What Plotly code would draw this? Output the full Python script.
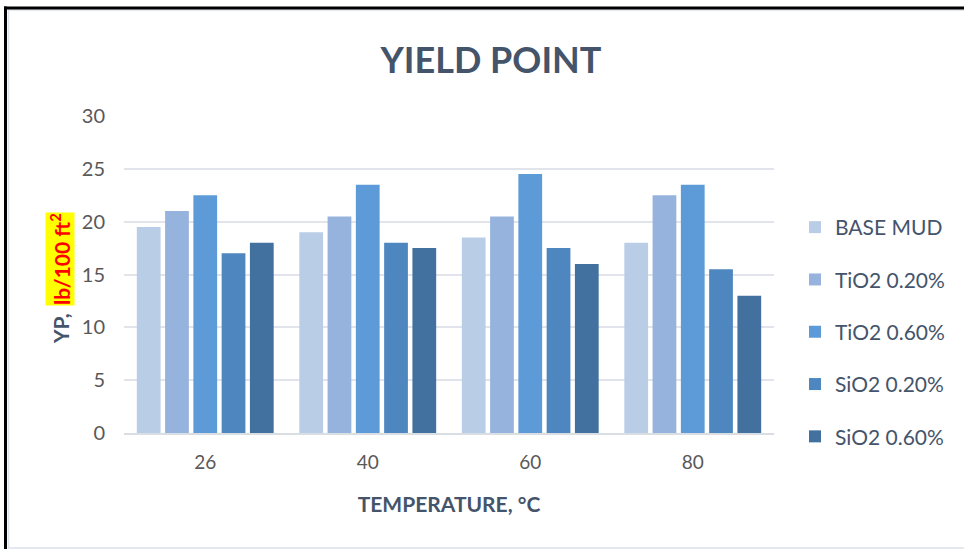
import plotly.graph_objects as go

# Yield point of the drilling fluid at each test temperature
temperatures = ["26", "40", "60", "80"]
series_names = ["BASE MUD", "TiO2 0.20%", "TiO2 0.60%", "SiO2 0.20%", "SiO2 0.60%"]
base_mud = [19.5, 19.0, 18.5, 18.0]
tio2_020 = [21.0, 20.5, 20.5, 22.5]
tio2_060 = [22.5, 23.5, 24.5, 23.5]
sio2_020 = [17.0, 18.0, 17.5, 15.5]
sio2_060 = [18.0, 17.5, 16.0, 13.0]
y_ticks = [0, 5, 10, 15, 20, 25, 30]

series_values = [base_mud, tio2_020, tio2_060, sio2_020, sio2_060]
colors = ["#bacde7", "#95b3dc", "#5c9bd7", "#4e86bf", "#42709f"]

W, H = 964, 549
L, R, T, B = 124, 190, 116, 116

fig = go.Figure()
for name, vals, col in zip(series_names, series_values, colors):
    fig.add_trace(go.Bar(
        x=temperatures, y=vals, name=name, legendgroup=name,
        marker=dict(color=col, line=dict(width=0)),
    ))


def px_x(px):
    return (px - L) / (W - L - R)


def px_y(py):
    return (H - B - py) / (H - T - B)


text_col = "#44546a"
font = "Lato, 'Open Sans', sans-serif"

shapes = [
    # inner light frame
    dict(type="rect", xref="paper", yref="paper",
         x0=px_x(8.5), x1=px_x(970), y0=px_y(548), y1=px_y(10),
         line=dict(color="#dde2ea", width=1.5), fillcolor="rgba(0,0,0,0)", layer="below"),
    # outer dark frame (top and left)
    dict(type="line", xref="paper", yref="paper",
         x0=px_x(4), x1=px_x(970), y0=px_y(8), y1=px_y(8),
         line=dict(color="black", width=3)),
    dict(type="line", xref="paper", yref="paper",
         x0=px_x(5.5), x1=px_x(5.5), y0=px_y(6.5), y1=px_y(560),
         line=dict(color="black", width=3)),
]

annotations = [
    dict(text="<b>YP,</b>", xref="paper", yref="paper",
         x=px_x(60), y=px_y(329), textangle=-90, showarrow=False,
         font=dict(family=font, size=21, color=text_col),
         xanchor="center", yanchor="middle"),
    dict(text="<b>lb/100 ft<sup>2</sup></b>", xref="paper", yref="paper",
         x=px_x(60), y=px_y(259), textangle=-90, showarrow=False,
         font=dict(family=font, size=21, color="#ff0000"),
         bgcolor="#ffff00", borderpad=0,
         xanchor="center", yanchor="middle"),
]

fig.update_layout(
    width=W, height=H,
    margin=dict(l=L, r=R, t=T, b=B, autoexpand=False),
    paper_bgcolor="white", plot_bgcolor="white",
    barmode="group", bargap=0.13, bargroupgap=0.16,
    title=dict(text="<b>YIELD POINT</b>", x=px_x(491), xref="paper", xanchor="center",
               y=1 - 60 / H, yanchor="middle",
               font=dict(family=font, size=36, color=text_col)),
    font=dict(family=font, color="#595959"),
    xaxis=dict(
        tickfont=dict(size=19, color="#595959"),
        showline=True, linecolor="#d9dde4", linewidth=2,
        ticks="", showgrid=False, ticklabelstandoff=11,
        title=dict(text="<b>TEMPERATURE, °C</b>", standoff=26,
                   font=dict(family=font, size=21, color=text_col)),
    ),
    yaxis=dict(
        range=[0, 30], tickvals=y_ticks,
        tickfont=dict(size=20, color="#595959"),
        showgrid=True, gridcolor="#e1e4ea", gridwidth=2,
        zeroline=False, ticks="", ticklabelstandoff=18,
    ),
    legend=dict(
        x=px_x(795), y=px_y(207), xanchor="left", yanchor="top",
        font=dict(family=font, size=21, color=text_col),
        tracegroupgap=22, itemwidth=30,
        bgcolor="rgba(0,0,0,0)",
    ),
    shapes=shapes,
    annotations=annotations,
)

fig.write_html("out.html")
